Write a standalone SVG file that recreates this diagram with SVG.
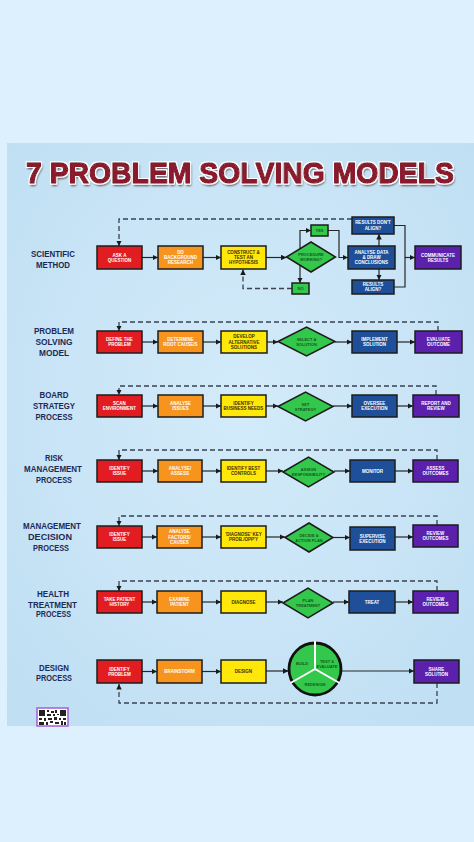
<svg xmlns="http://www.w3.org/2000/svg" width="474" height="842" viewBox="0 0 474 842">
<defs>
<marker id="ah" viewBox="0 0 10 10" refX="10" refY="5" markerWidth="5.5" markerHeight="5.5" orient="auto" markerUnits="userSpaceOnUse"><path d="M0,0 L10,5 L0,10 z" fill="#1a1a1a"/></marker>
<radialGradient id="pg" cx="0.5" cy="0.45" r="0.7"><stop offset="0" stop-color="#d3ebfa"/><stop offset="1" stop-color="#c0dff3"/></radialGradient>
<filter id="ttl" filterUnits="userSpaceOnUse" x="10" y="148" width="456" height="46">
<feOffset in="SourceAlpha" dx="1" dy="2" result="o"/><feGaussianBlur in="o" stdDeviation="0.9" result="s"/><feFlood flood-color="#2a0508" flood-opacity="0.75"/><feComposite in2="s" operator="in" result="sh"/>
<feMorphology in="SourceAlpha" operator="dilate" radius="1.1" result="d"/><feFlood flood-color="#ffffff"/><feComposite in2="d" operator="in" result="w"/>
<feMerge><feMergeNode in="sh"/><feMergeNode in="w"/><feMergeNode in="SourceGraphic"/></feMerge>
</filter>
<style>
.box{stroke:#1c1c1c;stroke-width:1.5}
.red{fill:#e21d22}.org{fill:#f7941e}.yel{fill:#ffe70a}.grn{fill:#33c84c}.blu{fill:#1e4f98}.pur{fill:#5b21ad}
.t{font-family:"Liberation Sans",Arial,sans-serif;font-weight:bold;font-size:4.5px;text-anchor:middle;fill:#ffffff}
.td{fill:#3b2f08}.tg{fill:#145a22;font-size:4px}
.lab{font-family:"Liberation Sans",Arial,sans-serif;font-weight:bold;font-size:9.6px;text-anchor:middle;fill:#1e2a55}
.ln{fill:none;stroke:#262626;stroke-width:1.2}
.dash{fill:none;stroke:#3a4250;stroke-width:1.3;stroke-dasharray:5 3}
</style>
</defs>
<rect x="0" y="0" width="474" height="842" fill="#dcf0fd"/>
<rect x="7" y="143" width="467" height="583" fill="url(#pg)"/>

<text x="240" y="182.5" font-family="Liberation Sans,Arial,sans-serif" font-weight="bold" font-size="29.5" fill="#8b1a2e" stroke="#8b1a2e" stroke-width="1.3" stroke-linejoin="round" textLength="428" lengthAdjust="spacingAndGlyphs" text-anchor="middle" filter="url(#ttl)">7 PROBLEM SOLVING MODELS</text>

<g id="labels">
<text class="lab" x="53" y="257" textLength="44" lengthAdjust="spacingAndGlyphs">SCIENTIFIC</text>
<text class="lab" x="53" y="268" textLength="34" lengthAdjust="spacingAndGlyphs">METHOD</text>
<text class="lab" x="54" y="333.5" textLength="40" lengthAdjust="spacingAndGlyphs">PROBLEM</text>
<text class="lab" x="54" y="344.5" textLength="37" lengthAdjust="spacingAndGlyphs">SOLVING</text>
<text class="lab" x="54" y="355.5" textLength="30" lengthAdjust="spacingAndGlyphs">MODEL</text>
<text class="lab" x="54" y="397.5" textLength="29" lengthAdjust="spacingAndGlyphs">BOARD</text>
<text class="lab" x="54" y="408.5" textLength="42" lengthAdjust="spacingAndGlyphs">STRATEGY</text>
<text class="lab" x="54" y="419.5" textLength="37" lengthAdjust="spacingAndGlyphs">PROCESS</text>
<text class="lab" x="54" y="460.5" textLength="18" lengthAdjust="spacingAndGlyphs">RISK</text>
<text class="lab" x="53" y="471.5" textLength="58" lengthAdjust="spacingAndGlyphs">MANAGEMENT</text>
<text class="lab" x="54" y="482.5" textLength="36" lengthAdjust="spacingAndGlyphs">PROCESS</text>
<text class="lab" x="52" y="528.5" textLength="58" lengthAdjust="spacingAndGlyphs">MANAGEMENT</text>
<text class="lab" x="50" y="539.5" textLength="44" lengthAdjust="spacingAndGlyphs">DECISION</text>
<text class="lab" x="51" y="550.5" textLength="36" lengthAdjust="spacingAndGlyphs">PROCESS</text>
<text class="lab" x="53" y="596.5" textLength="32" lengthAdjust="spacingAndGlyphs">HEALTH</text>
<text class="lab" x="52.5" y="607.5" textLength="49" lengthAdjust="spacingAndGlyphs">TREATMENT</text>
<text class="lab" x="53.5" y="617" textLength="35" lengthAdjust="spacingAndGlyphs">PROCESS</text>
<text class="lab" x="54" y="670.5" textLength="30" lengthAdjust="spacingAndGlyphs">DESIGN</text>
<text class="lab" x="54" y="681" textLength="36" lengthAdjust="spacingAndGlyphs">PROCESS</text>
</g>

<g id="connectors">
<path class="ln" d="M142,257.5 H158" marker-end="url(#ah)"/>
<path class="ln" d="M203,257.5 H221" marker-end="url(#ah)"/>
<path class="ln" d="M266,257.5 H286.5" marker-end="url(#ah)"/>
<path class="ln" d="M300,248.7 V230.5 H311" marker-end="url(#ah)"/>
<path class="ln" d="M328,230.5 H339 V257.5 H348" marker-end="url(#ah)"/>
<path class="ln" d="M300,265.3 V283" marker-end="url(#ah)"/>
<path class="dash" d="M292,288.5 H243 V269.5" marker-end="url(#ah)"/>
<path class="ln" d="M379,246 V234" marker-end="url(#ah)"/>
<path class="ln" d="M379,269 V280" marker-end="url(#ah)"/>
<path class="ln" d="M394,225.5 H405 V287 H394"/>
<path class="ln" d="M405,257.5 H415" marker-end="url(#ah)"/>
<path class="dash" d="M352,219 H119 V246" marker-end="url(#ah)"/>
<path class="ln" d="M142,342 H158" marker-end="url(#ah)"/>
<path class="ln" d="M203,342 H221" marker-end="url(#ah)"/>
<path class="ln" d="M267,342 H278" marker-end="url(#ah)"/>
<path class="ln" d="M335,342 H352" marker-end="url(#ah)"/>
<path class="ln" d="M397,342 H415" marker-end="url(#ah)"/>
<path class="dash" d="M438,331 V322 H119 V331" marker-end="url(#ah)"/>
<path class="ln" d="M142,406 H158" marker-end="url(#ah)"/>
<path class="ln" d="M203,406 H221" marker-end="url(#ah)"/>
<path class="ln" d="M266,406 H278" marker-end="url(#ah)"/>
<path class="ln" d="M333,406 H352" marker-end="url(#ah)"/>
<path class="ln" d="M397,406 H413" marker-end="url(#ah)"/>
<path class="dash" d="M436,395 V386 H119 V395" marker-end="url(#ah)"/>
<path class="ln" d="M142,471 H158" marker-end="url(#ah)"/>
<path class="ln" d="M202,471 H221" marker-end="url(#ah)"/>
<path class="ln" d="M266,471 H283" marker-end="url(#ah)"/>
<path class="ln" d="M334,471 H350" marker-end="url(#ah)"/>
<path class="ln" d="M395,471 H413" marker-end="url(#ah)"/>
<path class="dash" d="M437,460 V450 H119 V460" marker-end="url(#ah)"/>
<path class="ln" d="M142,537 H157" marker-end="url(#ah)"/>
<path class="ln" d="M202,537 H221" marker-end="url(#ah)"/>
<path class="ln" d="M266,537 H285" marker-end="url(#ah)"/>
<path class="ln" d="M333,537.5 H350" marker-end="url(#ah)"/>
<path class="ln" d="M395,537 H413" marker-end="url(#ah)"/>
<path class="dash" d="M437,525 V516 H119 V526" marker-end="url(#ah)"/>
<path class="ln" d="M142,602 H157" marker-end="url(#ah)"/>
<path class="ln" d="M202,602 H221" marker-end="url(#ah)"/>
<path class="ln" d="M266,602 H283" marker-end="url(#ah)"/>
<path class="ln" d="M333,602 H349" marker-end="url(#ah)"/>
<path class="ln" d="M395,602 H413" marker-end="url(#ah)"/>
<path class="dash" d="M437,591 V581 H119 V591" marker-end="url(#ah)"/>
<path class="ln" d="M142,671.5 H157" marker-end="url(#ah)"/>
<path class="ln" d="M202,671.5 H221" marker-end="url(#ah)"/>
<path class="ln" d="M266,671 H288.5" marker-end="url(#ah)"/>
<path class="ln" d="M341.5,671 H414" marker-end="url(#ah)"/>
<path class="dash" d="M437,683 V703 H119 V684" marker-end="url(#ah)"/>
</g>

<g id="sm-ask"><rect class="box red" x="97" y="246" width="45" height="23"/><text class="t" x="119.5" y="256.5">ASK A<tspan x="119.5" dy="5.2">QUESTION</tspan></text></g>
<g id="sm-research"><rect class="box org" x="158" y="246" width="45" height="23"/><text class="t" x="180.5" y="253.9">DO<tspan x="180.5" dy="5.2">BACKGROUND</tspan><tspan x="180.5" dy="5.2">RESEARCH</tspan></text></g>
<g id="sm-hyp"><rect class="box yel" x="221" y="246" width="45" height="23"/><text class="t td" x="243.5" y="253.9">CONSTRUCT &amp;<tspan x="243.5" dy="5.2">TEST AN</tspan><tspan x="243.5" dy="5.2">HYPOTHESIS</tspan></text></g>
<g id="sm-proc"><polygon class="box grn" points="286.5,257 311,242 335.5,257 311,272"/><text class="t tg" x="311" y="256">PROCEDURE<tspan x="311" dy="5">WORKING?</tspan></text></g>
<g id="sm-yes"><rect class="box grn" x="311" y="225" width="17" height="11"/><text class="t tg" x="319.5" y="232">YES</text></g>
<g id="sm-no"><rect class="box grn" x="292" y="283" width="17" height="11"/><text class="t tg" x="300.5" y="290">NO</text></g>
<g id="sm-analyse"><rect class="box blu" x="348" y="246" width="47" height="23"/><text class="t" x="371.5" y="253.9">ANALYSE DATA<tspan x="371.5" dy="5.2">&amp; DRAW</tspan><tspan x="371.5" dy="5.2">CONCLUSIONS</tspan></text></g>
<g id="sm-dont"><rect class="box blu" x="352" y="217" width="42" height="17"/><text class="t" x="373" y="224.3">RESULTS DON'T<tspan x="373" dy="5.2">ALIGN?</tspan></text></g>
<g id="sm-align"><rect class="box blu" x="352" y="280" width="42" height="14"/><text class="t" x="373" y="285.8">RESULTS<tspan x="373" dy="5">ALIGN?</tspan></text></g>
<g id="sm-comm"><rect class="box pur" x="415" y="246" width="46" height="23"/><text class="t" x="438" y="256.5">COMMUNICATE<tspan x="438" dy="5.2">RESULTS</tspan></text></g>

<g id="ps-define"><rect class="box red" x="97" y="331" width="45" height="22"/><text class="t" x="119.5" y="341">DEFINE THE<tspan x="119.5" dy="5.2">PROBLEM</tspan></text></g>
<g id="ps-root"><rect class="box org" x="158" y="331" width="45" height="22"/><text class="t" x="180.5" y="341">DETERMINE<tspan x="180.5" dy="5.2">ROOT CAUSE/S</tspan></text></g>
<g id="ps-dev"><rect class="box yel" x="221" y="331" width="46" height="22"/><text class="t td" x="244" y="338.4">DEVELOP<tspan x="244" dy="5.2">ALTERNATIVE</tspan><tspan x="244" dy="5.2">SOLUTIONS</tspan></text></g>
<g id="ps-select"><polygon class="box grn" points="278,341.5 306.5,327 335,341.5 306.5,356"/><text class="t tg" x="306.5" y="340.5">SELECT A<tspan x="306.5" dy="5">SOLUTION</tspan></text></g>
<g id="ps-impl"><rect class="box blu" x="352" y="331" width="45" height="22"/><text class="t" x="374.5" y="341">IMPLEMENT<tspan x="374.5" dy="5.2">SOLUTION</tspan></text></g>
<g id="ps-eval"><rect class="box pur" x="415" y="331" width="47" height="22"/><text class="t" x="438.5" y="341">EVALUATE<tspan x="438.5" dy="5.2">OUTCOME</tspan></text></g>

<g id="bs-scan"><rect class="box red" x="97" y="395" width="45" height="22"/><text class="t" x="119.5" y="405">SCAN<tspan x="119.5" dy="5.2">ENVIRONMENT</tspan></text></g>
<g id="bs-issues"><rect class="box org" x="158" y="395" width="45" height="22"/><text class="t" x="180.5" y="405">ANALYSE<tspan x="180.5" dy="5.2">ISSUES</tspan></text></g>
<g id="bs-needs"><rect class="box yel" x="221" y="395" width="45" height="22"/><text class="t td" x="243.5" y="405">IDENTIFY<tspan x="243.5" dy="5.2">BUSINESS NEEDS</tspan></text></g>
<g id="bs-set"><polygon class="box grn" points="278,406.5 305.5,392 333,406.5 305.5,421"/><text class="t tg" x="305.5" y="405.5">SET<tspan x="305.5" dy="5">STRATEGY</tspan></text></g>
<g id="bs-oversee"><rect class="box blu" x="352" y="395" width="45" height="22"/><text class="t" x="374.5" y="405">OVERSEE<tspan x="374.5" dy="5.2">EXECUTION</tspan></text></g>
<g id="bs-report"><rect class="box pur" x="413" y="395" width="46" height="22"/><text class="t" x="436" y="405">REPORT AND<tspan x="436" dy="5.2">REVIEW</tspan></text></g>

<g id="rm-issue"><rect class="box red" x="97" y="460" width="45" height="22"/><text class="t" x="119.5" y="470">IDENTIFY<tspan x="119.5" dy="5.2">ISSUE</tspan></text></g>
<g id="rm-assess"><rect class="box org" x="158" y="460" width="44" height="22"/><text class="t" x="180" y="470">ANALYSE/<tspan x="180" dy="5.2">ASSESS</tspan></text></g>
<g id="rm-controls"><rect class="box yel" x="221" y="460" width="45" height="22"/><text class="t td" x="243.5" y="470">IDENTIFY BEST<tspan x="243.5" dy="5.2">CONTROLS</tspan></text></g>
<g id="rm-assign"><polygon class="box grn" points="283,472 308.5,457 334,472 308.5,487"/><text class="t tg" x="308.5" y="471">ASSIGN<tspan x="308.5" dy="5">RESPONSIBILITY</tspan></text></g>
<g id="rm-monitor"><rect class="box blu" x="350" y="460" width="45" height="22"/><text class="t" x="372.5" y="472.6">MONITOR</text></g>
<g id="rm-outcomes"><rect class="box pur" x="413" y="460" width="45" height="22"/><text class="t" x="435.5" y="470">ASSESS<tspan x="435.5" dy="5.2">OUTCOMES</tspan></text></g>

<g id="md-issue"><rect class="box red" x="97" y="526" width="45" height="22"/><text class="t" x="119.5" y="536">IDENTIFY<tspan x="119.5" dy="5.2">ISSUE</tspan></text></g>
<g id="md-factors"><rect class="box org" x="157" y="526" width="45" height="22"/><text class="t" x="179.5" y="533.4">ANALYSE<tspan x="179.5" dy="5.2">FACTORS/</tspan><tspan x="179.5" dy="5.2">CAUSES</tspan></text></g>
<g id="md-diagnose"><rect class="box yel" x="221" y="526" width="45" height="22"/><text class="t td" x="243.5" y="536">'DIAGNOSE' KEY<tspan x="243.5" dy="5.2">PROB./OPP'Y</tspan></text></g>
<g id="md-decide"><polygon class="box grn" points="285,537.5 309,523 333,537.5 309,552"/><text class="t tg" x="309" y="536.5">DECIDE &amp;<tspan x="309" dy="5">ACTION PLAN</tspan></text></g>
<g id="md-supervise"><rect class="box blu" x="350" y="527" width="45" height="23"/><text class="t" x="372.5" y="537.5">SUPERVISE<tspan x="372.5" dy="5.2">EXECUTION</tspan></text></g>
<g id="md-review"><rect class="box pur" x="413" y="525" width="45" height="22"/><text class="t" x="435.5" y="535">REVIEW<tspan x="435.5" dy="5.2">OUTCOMES</tspan></text></g>

<g id="ht-history"><rect class="box red" x="97" y="591" width="45" height="22"/><text class="t" x="119.5" y="601">TAKE PATIENT<tspan x="119.5" dy="5.2">HISTORY</tspan></text></g>
<g id="ht-examine"><rect class="box org" x="157" y="591" width="45" height="22"/><text class="t" x="179.5" y="601">EXAMINE<tspan x="179.5" dy="5.2">PATIENT</tspan></text></g>
<g id="ht-diagnose"><rect class="box yel" x="221" y="591" width="45" height="22"/><text class="t td" x="243.5" y="603.6">DIAGNOSE</text></g>
<g id="ht-plan"><polygon class="box grn" points="283,603 308,588 333,603 308,618"/><text class="t tg" x="308" y="602">PLAN<tspan x="308" dy="5">TREATMENT</tspan></text></g>
<g id="ht-treat"><rect class="box blu" x="349" y="591" width="46" height="22"/><text class="t" x="372" y="603.6">TREAT</text></g>
<g id="ht-review"><rect class="box pur" x="413" y="591" width="45" height="22"/><text class="t" x="435.5" y="601">REVIEW<tspan x="435.5" dy="5.2">OUTCOMES</tspan></text></g>

<g id="dp-problem"><rect class="box red" x="97" y="660" width="45" height="23"/><text class="t" x="119.5" y="670.5">IDENTIFY<tspan x="119.5" dy="5.2">PROBLEM</tspan></text></g>
<g id="dp-brainstorm"><rect class="box org" x="157" y="660" width="45" height="23"/><text class="t" x="179.5" y="673.1">BRAINSTORM</text></g>
<g id="dp-design"><rect class="box yel" x="221" y="660" width="45" height="23"/><text class="t td" x="243.5" y="673.1">DESIGN</text></g>
<g id="dp-cycle">
<circle cx="315" cy="669" r="26" fill="#33c84c" stroke="#111" stroke-width="2.8"/>
<path d="M315,669 V641 M315,669 L290.5,683 M315,669 L339.5,683" stroke="#ffffff" stroke-width="2" fill="none"/>
<text class="t tg" x="302" y="665">BUILD</text>
<text class="t tg" x="327" y="662.5">TEST &amp;<tspan x="327" dy="5">EVALUATE</tspan></text>
<text class="t tg" x="315" y="686">REDESIGN</text>
</g>
<g id="dp-share"><rect class="box pur" x="414" y="660" width="45" height="23"/><text class="t" x="436.5" y="670.5">SHARE<tspan x="436.5" dy="5.2">SOLUTION</tspan></text></g>

<g id="qr">
<rect x="37" y="708" width="31" height="18" fill="#ffffff" stroke="#a15fd6" stroke-width="1.5"/>
<path d="M39,710h6v6h-6z M60,710h6v6h-6z M41,712h2v2h-2z M62,712h2v2h-2z M47,710h2v2h-2z M51,711h3v2h-3z M55,710h2v3h-2z M47,714h4v2h-4z M53,714h2v2h-2z M57,714h2v1h-2z M39,718h3v2h-3z M44,718h2v3h-2z M48,718h4v2h-4z M54,717h3v3h-3z M59,718h2v2h-2z M63,718h3v2h-3z M39,722h5v3h-5z M46,722h2v3h-2z M50,721h3v2h-3z M55,722h4v2h-4z M61,721h2v4h-2z M64,722h2v3h-2z" fill="#222"/>
</g>
</svg>
